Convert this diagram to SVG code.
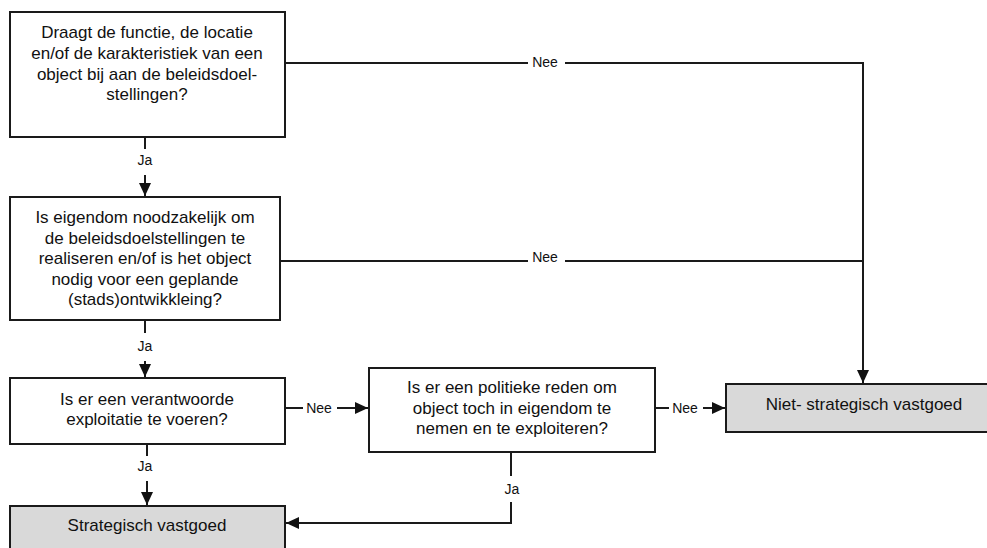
<svg xmlns="http://www.w3.org/2000/svg" width="987" height="548" viewBox="0 0 987 548">
<style>
.box{fill:#ffffff;stroke:#1a1a1a;stroke-width:2}
.end{fill:#d9d9d9;stroke:#1a1a1a;stroke-width:2}
.t{font-family:"Liberation Sans",Arial,sans-serif;font-size:17px;fill:#111;text-anchor:middle}
.l{font-family:"Liberation Sans",Arial,sans-serif;font-size:14px;fill:#111;text-anchor:middle}
.c{fill:none;stroke:#1a1a1a;stroke-width:2}
</style>
<defs>
<marker id="ah" markerWidth="14" markerHeight="12" refX="13" refY="6" orient="auto" markerUnits="userSpaceOnUse">
<path d="M0,0 L13,6 L0,12 Z" fill="#111"/>
</marker>
</defs>
<rect width="987" height="548" fill="#ffffff"/>
<g id="connectors">
<path class="c" d="M145,137 V149"/>
<text class="l" x="145" y="165">Ja</text>
<path class="c" d="M145,175 V196" marker-end="url(#ah)"/>
<path class="c" d="M145,320 V333"/>
<text class="l" x="145" y="351">Ja</text>
<path class="c" d="M145,361 V377" marker-end="url(#ah)"/>
<path class="c" d="M147,444 V456"/>
<text class="l" x="145" y="471">Ja</text>
<path class="c" d="M147,481 V505" marker-end="url(#ah)"/>
<path class="c" d="M285,63 H528"/>
<text class="l" x="545" y="67">Nee</text>
<path class="c" d="M565,63 H863 V383" marker-end="url(#ah)"/>
<path class="c" d="M281,261 H528"/>
<text class="l" x="545" y="262">Nee</text>
<path class="c" d="M565,261 H863"/>
<path class="c" d="M285,408 H303"/>
<text class="l" x="319" y="413">Nee</text>
<path class="c" d="M337,408 H368" marker-end="url(#ah)"/>
<path class="c" d="M655,408 H669"/>
<text class="l" x="685" y="413">Nee</text>
<path class="c" d="M703,408 H725" marker-end="url(#ah)"/>
<path class="c" d="M511,452 V476"/>
<text class="l" x="512" y="494">Ja</text>
<path class="c" d="M511,502 V523 H286" marker-end="url(#ah)"/>
</g>
<g id="q1">
<rect class="box" x="10" y="12" width="275" height="125"/>
<text class="t" x="147" y="38">Draagt de functie, de locatie</text>
<text class="t" x="147" y="59">en/of de karakteristiek van een</text>
<text class="t" x="147" y="80">object bij aan de beleidsdoel-</text>
<text class="t" x="147" y="100">stellingen?</text>
</g>
<g id="q2">
<rect class="box" x="10" y="197" width="270" height="123"/>
<text class="t" x="145" y="223">Is eigendom noodzakelijk om</text>
<text class="t" x="145" y="244">de beleidsdoelstellingen te</text>
<text class="t" x="145" y="264">realiseren en/of is het object</text>
<text class="t" x="145" y="285">nodig voor een geplande</text>
<text class="t" x="145" y="305">(stads)ontwikkleing?</text>
</g>
<g id="q3">
<rect class="box" x="10" y="378" width="275" height="66"/>
<text class="t" x="147" y="405">Is er een verantwoorde</text>
<text class="t" x="147" y="425">exploitatie te voeren?</text>
</g>
<g id="q4">
<rect class="box" x="369" y="368" width="286" height="84"/>
<text class="t" x="512" y="393">Is er een politieke reden om</text>
<text class="t" x="512" y="414">object toch in eigendom te</text>
<text class="t" x="512" y="434">nemen en te exploiteren?</text>
</g>
<g id="strategisch">
<rect class="end" x="10" y="506" width="275" height="50"/>
<text class="t" x="147" y="531">Strategisch vastgoed</text>
</g>
<g id="niet-strategisch">
<rect class="end" x="726" y="384" width="268" height="48"/>
<text class="t" x="864" y="410">Niet- strategisch vastgoed</text>
</g>
</svg>
